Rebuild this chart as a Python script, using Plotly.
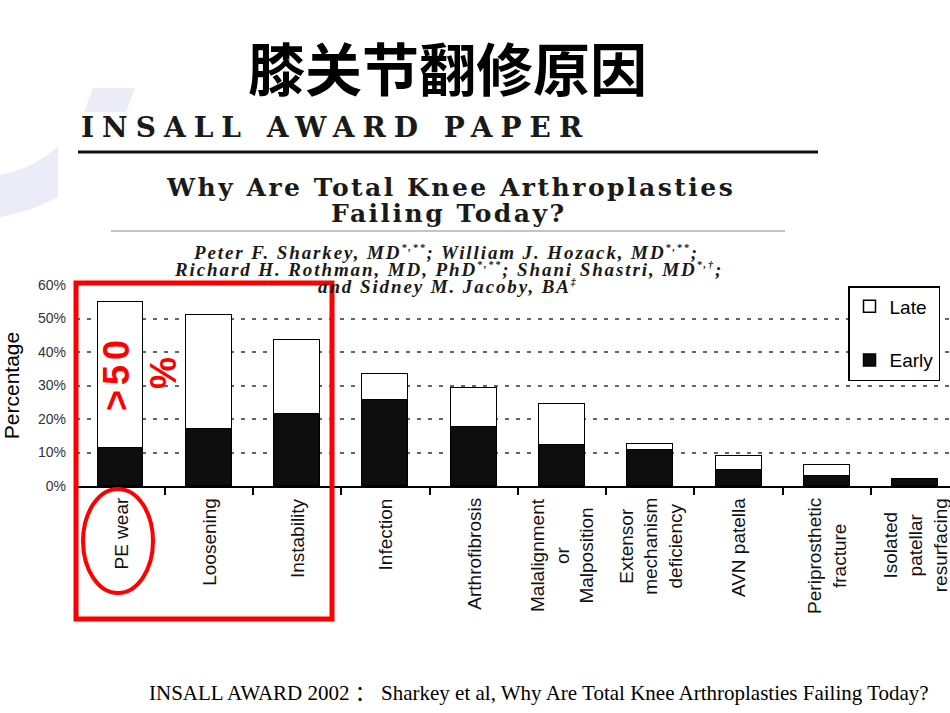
import plotly.graph_objects as go

# ---------------- data ----------------
categories = ["PE wear", "Loosening", "Instability", "Infection", "Arthrofibrosis",
              "Malalignment<br>or<br>Malposition", "Extensor<br>mechanism<br>deficiency",
              "AVN patella", "Periprosthetic<br>fracture", "Isolated<br>patellar<br>resurfacing"]
early = [11.3, 17.0, 21.5, 25.7, 17.6, 12.2, 10.7, 4.8, 3.0, 2.1]
late = [43.6, 34.0, 22.1, 7.7, 11.7, 12.3, 1.8, 4.2, 3.3, 0.0]
y_ticks = [0, 10, 20, 30, 40, 50, 60]
y_ticktext = ["0%", "10%", "20%", "30%", "40%", "50%", "60%"]
grid_vals = [10, 20, 30, 40, 50]
boundaries = [0.5, 1.5, 2.5, 3.5, 4.5, 5.5, 6.5, 7.5, 8.5]

title_text = "膝关节翻修原因"
paper_head = "INSALL AWARD PAPER"
paper_title1 = "Why Are Total Knee Arthroplasties"
paper_title2 = "Failing Today?"
SUP = '<sup><span style="font-size:10px">{}</span></sup>'
authors = ["Peter F. Sharkey, MD" + SUP.format("*,**") + "; William J. Hozack, MD" + SUP.format("*,**") + ";",
           "Richard H. Rothman, MD, PhD" + SUP.format("*,**") + "; Shani Shastri, MD" + SUP.format("*,†") + ";",
           "and Sidney M. Jacoby, BA" + SUP.format("‡")]
caption = "INSALL AWARD 2002 ： Sharkey et al, Why Are Total Knee Arthroplasties Failing Today?"

# ---------------- layout geometry (pixels) ----------------
W, H = 950, 713
L, R, T, B = 76, 950, 285, 486


def px(x):
    return (x - L) / (R - L)


def py(y):
    return (B - y) / (B - T)


def spaced(text, sp):
    return '<span style="letter-spacing:{}px">{}</span>'.format(sp, text)


x_pos = list(range(len(categories)))

fig = go.Figure()
fig.add_trace(go.Bar(x=x_pos, y=early, name="Early", width=0.52, legendrank=2, legendgroup="early",
                     marker=dict(color="#0d0d0d", line=dict(color="black", width=1.5))))
fig.add_trace(go.Bar(x=x_pos, y=late, name="Late", width=0.52, legendrank=1, legendgroup="late",
                     marker=dict(color="white", line=dict(color="black", width=1.5))))

annotations = []
for i, c in enumerate(categories):
    annotations.append(dict(x=x_pos[i], xref="x", y=py(496), yref="paper", text=c,
                            textangle=-90, xanchor="center", yanchor="top", align="center",
                            showarrow=False,
                            font=dict(family="Liberation Sans, Arial", size=19, color="#111")))

annotations += [
    dict(x=px(447), y=py(66), xref="paper", yref="paper", text="<b>" + title_text + "</b>",
         showarrow=False, xanchor="center", yanchor="middle",
         font=dict(family="Noto Sans CJK SC", size=57, color="black")),
    dict(x=px(335), y=py(127), xref="paper", yref="paper",
         text=spaced("<b>" + paper_head + "</b>", 8),
         showarrow=False, xanchor="center", yanchor="middle",
         font=dict(family="DejaVu Serif", size=28, color="#1a1a1a")),
    dict(x=px(450), y=py(187), xref="paper", yref="paper",
         text=spaced("<b>" + paper_title1 + "</b>", 2.5),
         showarrow=False, xanchor="center", yanchor="middle",
         font=dict(family="DejaVu Serif", size=25, color="#1a1a1a")),
    dict(x=px(449), y=py(213), xref="paper", yref="paper",
         text=spaced("<b>" + paper_title2 + "</b>", 2.5),
         showarrow=False, xanchor="center", yanchor="middle",
         font=dict(family="DejaVu Serif", size=25, color="#1a1a1a")),
]
for k, (ytxt, xc) in enumerate([(252, 446), (269, 448), (286, 448)]):
    annotations.append(dict(x=px(xc), y=py(ytxt), xref="paper", yref="paper",
                            text=spaced("<b><i>" + authors[k] + "</i></b>", 1.9),
                            showarrow=False, xanchor="center", yanchor="middle",
                            font=dict(family="Liberation Serif", size=19, color="#1a1a1a")))
annotations += [
    dict(x=px(539), y=py(693), xref="paper", yref="paper", text=caption,
         showarrow=False, xanchor="center", yanchor="middle",
         font=dict(family="Liberation Serif, Noto Sans CJK SC", size=21, color="black")),
    dict(x=px(140), y=py(373), xref="paper", yref="paper",
         text=spaced("&gt;50", 5) + "<br>%",
         textangle=-90, showarrow=False, xanchor="center", yanchor="middle", align="center",
         font=dict(family="Liberation Sans, Arial", size=36, color="#ff0000", weight="bold")),
]

shapes = [
    # lavender decoration
    dict(type="path", xref="paper", yref="paper", layer="below", line=dict(width=0),
         fillcolor="#ececf9",
         path="M {},{} L {},{} L {},{} L {},{} Z".format(px(93), py(88), px(135), py(88),
                                                        px(126), py(112), px(84), py(112))),
    dict(type="path", xref="paper", yref="paper", layer="below", line=dict(width=0),
         fillcolor="#ececf9",
         path="M {},{} Q {},{} {},{} L {},{} Q {},{} {},{} Z".format(
             px(0), py(175), px(35), py(168), px(58), py(146), px(58), py(197),
             px(30), py(212), px(0), py(217))),
    # header rules
    dict(type="line", xref="paper", yref="paper", x0=px(78), x1=px(818), y0=py(152), y1=py(152),
         line=dict(color="#111", width=3)),
    dict(type="line", xref="paper", yref="paper", x0=px(111), x1=px(785), y0=py(231), y1=py(231),
         line=dict(color="#888", width=1)),
    # red highlight
    dict(type="rect", xref="paper", yref="paper", x0=px(76), x1=px(332), y0=py(619), y1=py(283),
         line=dict(color="#ff0000", width=5), layer="above"),
    dict(type="circle", xref="paper", yref="paper", x0=px(83), x1=px(153), y0=py(593), y1=py(489),
         line=dict(color="#ff0000", width=4), layer="above"),
]

fig.update_layout(
    template="none",
    width=W, height=H,
    margin=dict(l=L, r=W - R, t=T, b=H - B, pad=0),
    paper_bgcolor="white", plot_bgcolor="white",
    barmode="stack", bargap=0,
    showlegend=True,
    legend=dict(x=px(940), xanchor="right", y=py(286), yanchor="top",
                bgcolor="white", bordercolor="black", borderwidth=1.5,
                font=dict(family="Liberation Sans, Arial", size=19, color="black"),
                tracegroupgap=26, traceorder="grouped", itemwidth=30),
    xaxis=dict(range=[-0.504, 9.394], showline=True, linecolor="black", linewidth=1.5,
               ticks="outside", tickmode="array", tickvals=boundaries, ticklen=7, tickwidth=1.5,
               tickcolor="black", showticklabels=False, showgrid=False, zeroline=False),
    yaxis=dict(range=[0, 60], tickmode="array", tickvals=y_ticks, ticktext=y_ticktext,
               ticks="", showline=False, zeroline=False, showgrid=False,
               ticklabelstandoff=9,
               tickfont=dict(family="Liberation Sans, Arial", size=14, color="#333"),
               minor=dict(tickmode="array", tickvals=grid_vals, showgrid=True,
                          griddash="4px,7px", gridcolor="#666", gridwidth=1.5),
               title=dict(text="Percentage", standoff=12,
                          font=dict(family="Liberation Sans, Arial", size=21, color="black"))),
    annotations=annotations,
    shapes=shapes,
)

fig.write_html("out.html")
